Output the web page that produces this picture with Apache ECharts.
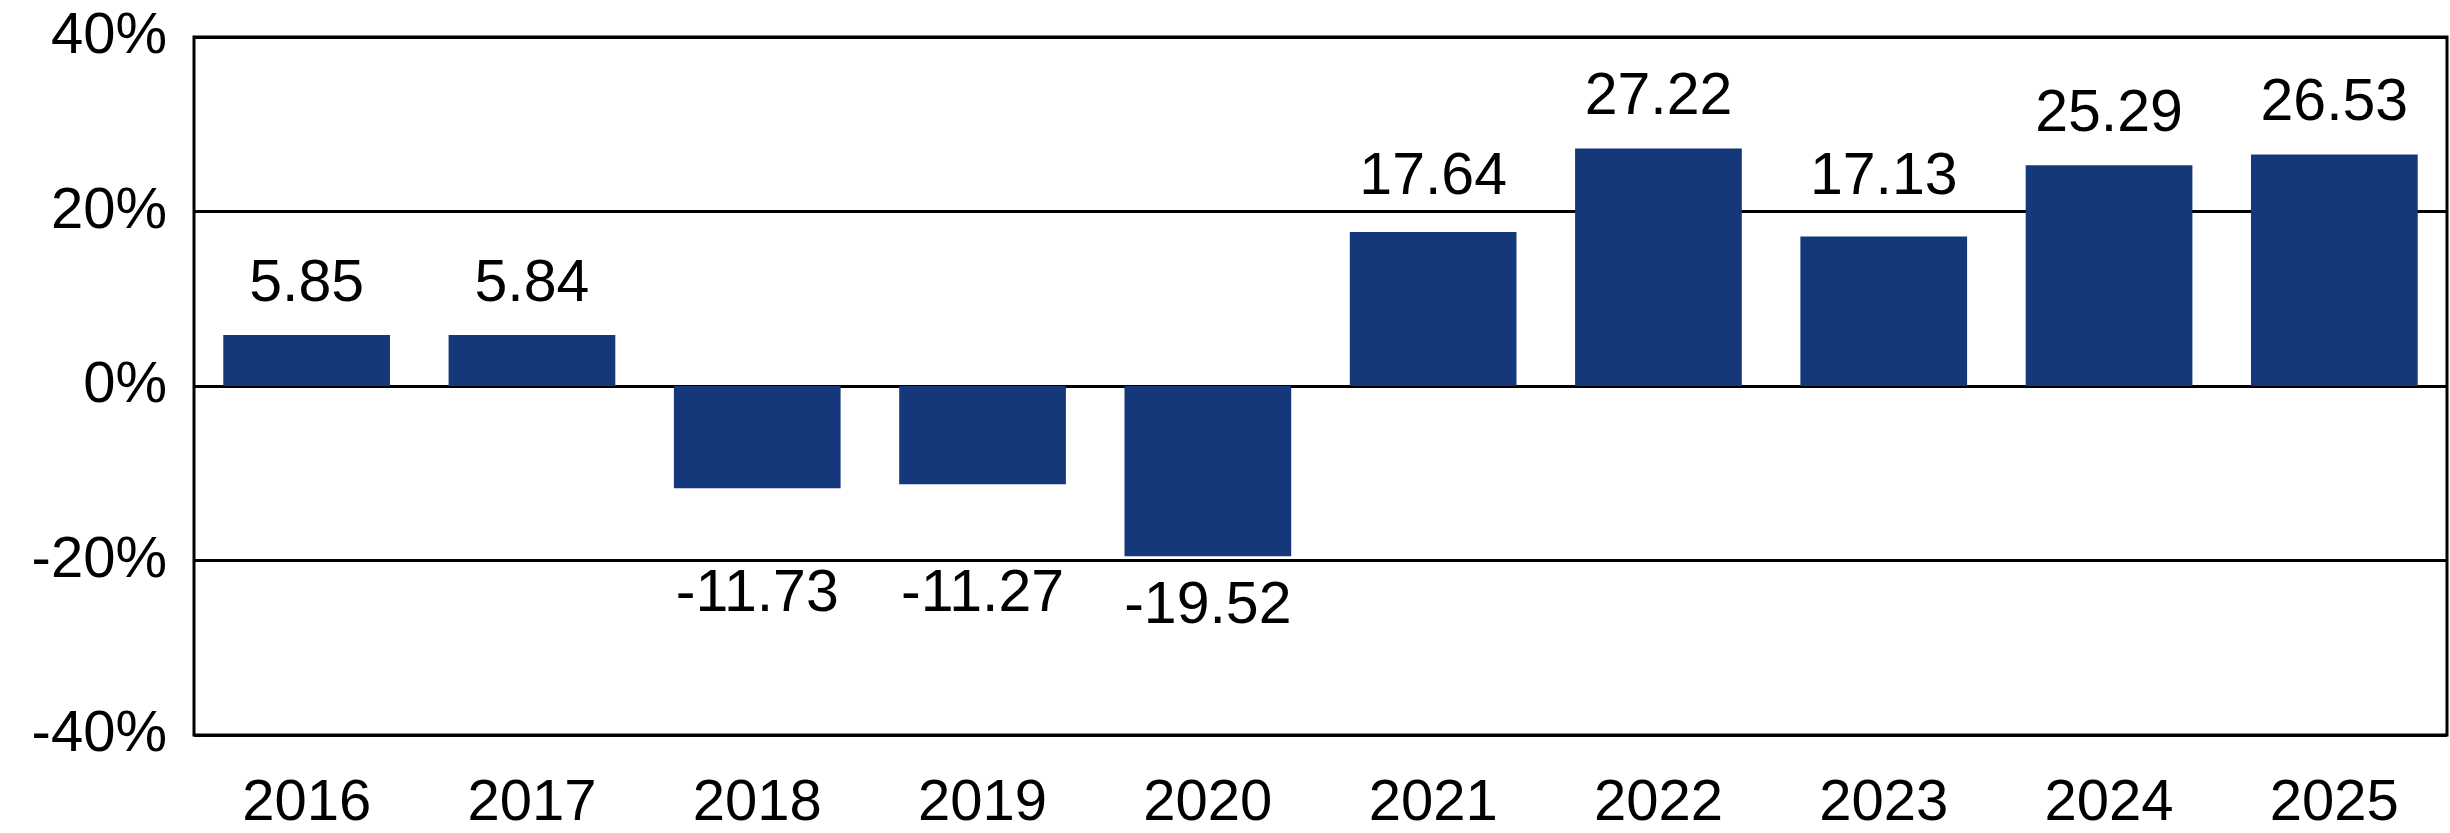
<!DOCTYPE html>
<html><head><meta charset="utf-8">
<script src="https://cdn.jsdelivr.net/npm/echarts@6/dist/echarts.min.js"></script>
<style>html,body{margin:0;padding:0;background:#fff}#c{width:2450px;height:833px}</style>
</head><body><div id="c"></div>
<script>
const categories = ['2016','2017','2018','2019','2020','2021','2022','2023','2024','2025'];
const returns = [5.85, 5.84, -11.73, -11.27, -19.52, 17.64, 27.22, 17.13, 25.29, 26.53];
const yMin = -40, yMax = 40, yStep = 20;

const FONT = 'Liberation Sans';
const FS_AXIS = 58;
const FS_LABEL = 59;
const BAR_COLOR = '#15387a';

const chart = echarts.init(document.getElementById('c'), null, {renderer: 'canvas'});

function build(offsets) {
  return {
    animation: false,
    backgroundColor: '#fff',
    textStyle: {fontFamily: FONT},
    grid: {left: 194, right: 3, top: 37, bottom: 96, show: true, borderColor: '#000', borderWidth: 3, backgroundColor: 'transparent'},
    xAxis: {
      type: 'category', data: categories,
      axisLine: {show: false}, axisTick: {show: false},
      axisLabel: {fontFamily: FONT, fontSize: FS_AXIS, color: '#000', margin: 40}
    },
    yAxis: {
      type: 'value', min: yMin, max: yMax, interval: yStep,
      axisLine: {show: false}, axisTick: {show: false},
      splitLine: {show: true, lineStyle: {color: '#000', width: 3}},
      axisLabel: {fontFamily: FONT, fontSize: FS_AXIS, color: '#000', margin: 27, formatter: '{value}%'}
    },
    series: [{
      type: 'bar', barWidth: '74%',
      itemStyle: {color: BAR_COLOR},
      data: returns.map((v, i) => ({
        value: v,
        label: {position: v >= 0 ? 'top' : 'bottom', offset: [0, offsets[i]]}
      })),
      label: {
        show: true, distance: 21, fontFamily: FONT, fontSize: FS_LABEL, color: '#000',
        formatter: p => p.value.toFixed(2)
      }
    }]
  };
}

chart.setOption(build(returns.map(() => 0)));

// Move value labels clear of the gridlines, as in the reference
const gridYs = [yStep, 0, -yStep].map(v => chart.convertToPixel({yAxisIndex: 0}, v));
const GAP = 31, CAP = 42;
const offsets = returns.map(v => {
  const end = chart.convertToPixel({yAxisIndex: 0}, v);
  if (v >= 0) {
    const capBottom = end - GAP, capTop = capBottom - CAP;
    for (const g of gridYs) {
      if (g > capTop - 10 && g < capBottom + 12) return (g - 14) - capBottom;
    }
  } else {
    const capTop = end + GAP, capBottom = capTop + CAP;
    for (const g of gridYs) {
      if (g > capTop - 10 && g < capBottom + 12) return (g + 15) - capTop;
    }
  }
  return 0;
});
chart.setOption(build(offsets));
</script>
</body></html>
